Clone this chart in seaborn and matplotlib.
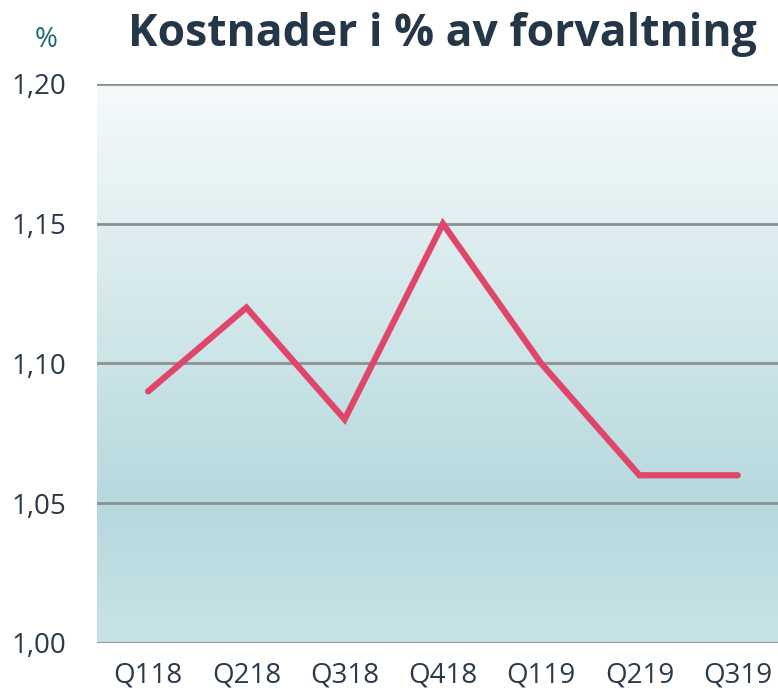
import numpy as np
import pandas as pd
import matplotlib
matplotlib.use("Agg")
import matplotlib.pyplot as plt
from matplotlib.colors import LinearSegmentedColormap
import seaborn as sns

# data
quarters = ["Q118", "Q218", "Q318", "Q418", "Q119", "Q219", "Q319"]
cost_pct = [1.09, 1.12, 1.08, 1.15, 1.10, 1.06, 1.06]
y_ticks = [1.00, 1.05, 1.10, 1.15, 1.20]

df = pd.DataFrame({"quarter": quarters, "pct": cost_pct})
df["pos"] = range(len(df))

sns.set_style("white")
plt.rcParams["font.family"] = ["Open Sans", "DejaVu Sans"]

fig = plt.figure(figsize=(7.78, 6.89), dpi=100)
ax = fig.add_axes([0.1247, 0.0668, 0.8753, 0.8113])

# background gradient (top light -> darker around 1,05 -> slightly lighter at bottom)
grad = LinearSegmentedColormap.from_list(
    "bg", [(0.0, "#c8e3e7"), (0.25, "#b6d9de"), (0.6, "#d3e8eb"), (1.0, "#f6fafb")])
ax.imshow(np.linspace(0, 1, 256).reshape(-1, 1), aspect="auto", cmap=grad,
          origin="lower", extent=[0, 1, 0, 1], transform=ax.transAxes, zorder=0)

for t in y_ticks:
    ax.axhline(t, color="#8e9193", lw=2, zorder=1)

sns.lineplot(data=df, x="pos", y="pct", ax=ax, color="#e0456a", lw=4.5,
             solid_capstyle="round", solid_joinstyle="miter", zorder=3)

ax.set_xlim(-0.52, 6.41)
ax.set_ylim(1.0, 1.2)
ax.set_xticks(df["pos"])
ax.set_xticklabels(quarters)
ax.set_yticks(y_ticks)
ax.set_yticklabels([f"{v:.2f}".replace(".", ",") for v in y_ticks])
ax.tick_params(length=0, labelsize=20, colors="#2a3a4a", pad=13)
ax.tick_params(axis="y", pad=22)
ax.set_xlabel("")
ax.set_ylabel("")
for s in ax.spines.values():
    s.set_visible(False)

fig.text(0.569, 0.950, "Kostnader i % av forvaltning", ha="center", va="center",
         fontsize=32, fontweight="bold", color="#253648")
fig.text(0.059, 0.942, "%", ha="center", va="center", fontsize=20, color="#1b6b6f")

fig.savefig("out.png", dpi=100)
